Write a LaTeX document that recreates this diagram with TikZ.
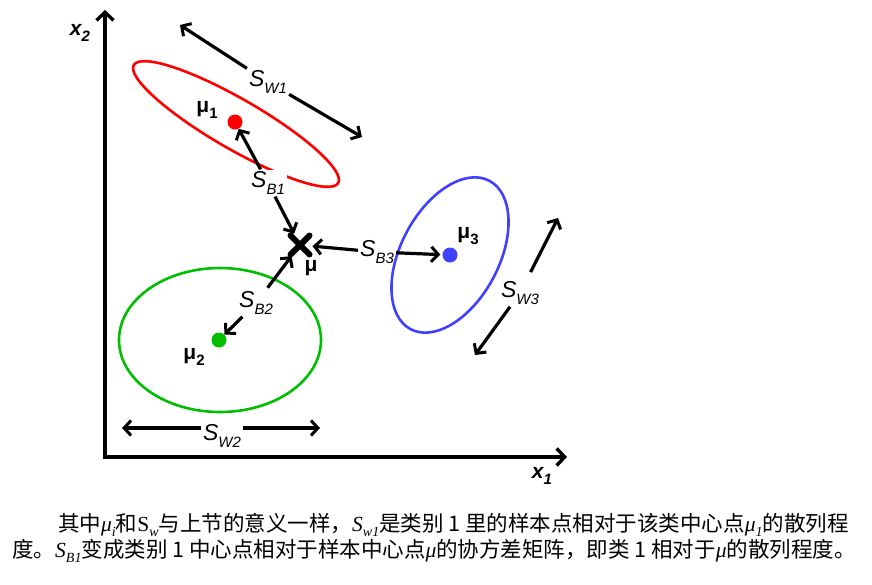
\documentclass[tikz,border=0pt]{standalone}
\usepackage{fontspec}
\setmainfont{Liberation Sans}
\newfontfamily\cjk{Noto Sans CJK SC}
\newfontfamily\cmb{Liberation Serif}
\usetikzlibrary{arrows.meta,shapes.misc}
\newcommand\lsub[1]{\raisebox{-0.3em}{\fontsize{15}{15}\selectfont #1}}
\newcommand\csub[1]{\raisebox{-0.25em}{\cmb\itshape\fontsize{14}{14}\selectfont #1}}
\newcommand\cmv[2]{{\cmb\itshape #1}\csub{#2}}
\begin{document}
\begin{tikzpicture}[x=1pt,y=-1pt,
  mytip/.tip={Straight Barb[length=7pt,width=15pt,line width=3pt]},
  axtip/.tip={Straight Barb[length=8pt,width=17pt,line width=3.4pt]},
  arr/.style={line width=3.2pt,-mytip},
  axisline/.style={line width=4.2pt,axtip-axtip,line join=miter},
  slab/.style={font=\fontsize{23}{23}\selectfont\itshape,inner sep=2pt},
  mlab/.style={font=\fontsize{21}{21}\selectfont\bfseries,inner sep=1pt},
  dot/.style={circle,inner sep=0pt,minimum size=15pt},
  ell/.style={line width=2.6pt},
  captext/.style={anchor=west,inner sep=0pt,font=\fontsize{21.5}{21.5}\selectfont\cjk}]
\useasboundingbox (0,0) rectangle (872,584);
% axes
\coordinate (ytop) at (105,10);
\coordinate (xend) at (567,457);
\draw[axisline] (ytop) |- (xend);
\node[mlab,font=\fontsize{21}{21}\selectfont\bfseries\itshape] (x2) at (80,33) {x\lsub{2}};
\node[mlab,font=\fontsize{21}{21}\selectfont\bfseries\itshape] (x1) at (542,476) {x\lsub{1}};
% ellipses
\draw[ell,red,rotate around={-30:(236,124)}] (236,124) ellipse [x radius=118,y radius=25];
\draw[ell,blue!75!white,rotate around={62:(450,255)}] (450,255) ellipse [x radius=84,y radius=49];
\draw[ell,green!75!black] (220,340) ellipse [x radius=101,y radius=72];
% centres
\node[dot,fill=red] (mu1) at (235,122) {};
\node[dot,fill=green!75!black] (mu2) at (219,340) {};
\node[dot,fill=blue!75!white] (mu3) at (450,255) {};
\node[draw,cross out,line width=6pt,line cap=round,minimum size=13pt,inner sep=0pt] (mux) at (300,245) {};
\node[mlab] (lmu1) at (207,110) {μ\lsub{1}};
\node[mlab] (lmu2) at (194,357) {μ\lsub{2}};
\node[mlab] (lmu3) at (468,236) {μ\lsub{3}};
\node[mlab] (lmu) at (311,268) {μ};
% between-class labels
\node[slab,fill=white] (sb1) at (268,183) {S\lsub{B1}};
\node[slab] (sb2) at (256,303) {S\lsub{B2}};
\node[slab] (sb3) at (377,252) {S\lsub{B3}};
\draw[arr] (sb1) -- (mu1);
\draw[arr,shorten >=2pt] (sb1) -- (mux);
\draw[arr,shorten <=2pt,shorten >=2pt] (sb2) -- (mux);
\draw[arr] (sb2) -- (mu2);
\draw[arr,shorten >=3pt] (sb3) -- (mux);
\draw[arr,shorten >=2pt] (sb3) -- (mu3);
% within-class labels
\node[slab] (sw1) at (268,82) {S\lsub{W1}};
\node[slab] (sw2) at (222,436) {S\lsub{W2}};
\node[slab] (sw3) at (520,293) {S\lsub{W3}};
\coordinate (w1a) at (180,25);
\coordinate (w1b) at (362,137);
\coordinate (w2a) at (122,428);
\coordinate (w2b) at (320,428);
\coordinate (w3a) at (558,218);
\coordinate (w3b) at (475,355);
\draw[arr] (sw1) -- (w1a);
\draw[arr] (sw1) -- (w1b);
\draw[arr] (sw2.west |- w2a) -- (w2a);
\draw[arr] (sw2.east |- w2b) -- (w2b);
\draw[arr,shorten <=8pt] (sw3) -- (w3a);
\draw[arr] (sw3) -- (w3b);
% caption
\node[captext] (c1) at (58,525) {其中\cmv{μ}{i}和{\cmb S}\csub{w}与上节的意义一样，\cmv{S}{w1}是类别 1 里的样本点相对于该类中心点\cmv{μ}{1}的散列程};
\node[captext] (c2) at (12,551) {度。\cmv{S}{B1}变成类别 1 中心点相对于样本中心点{\cmb\itshape μ}的协方差矩阵，即类 1 相对于{\cmb\itshape μ}的散列程度。};
\end{tikzpicture}
\end{document}
